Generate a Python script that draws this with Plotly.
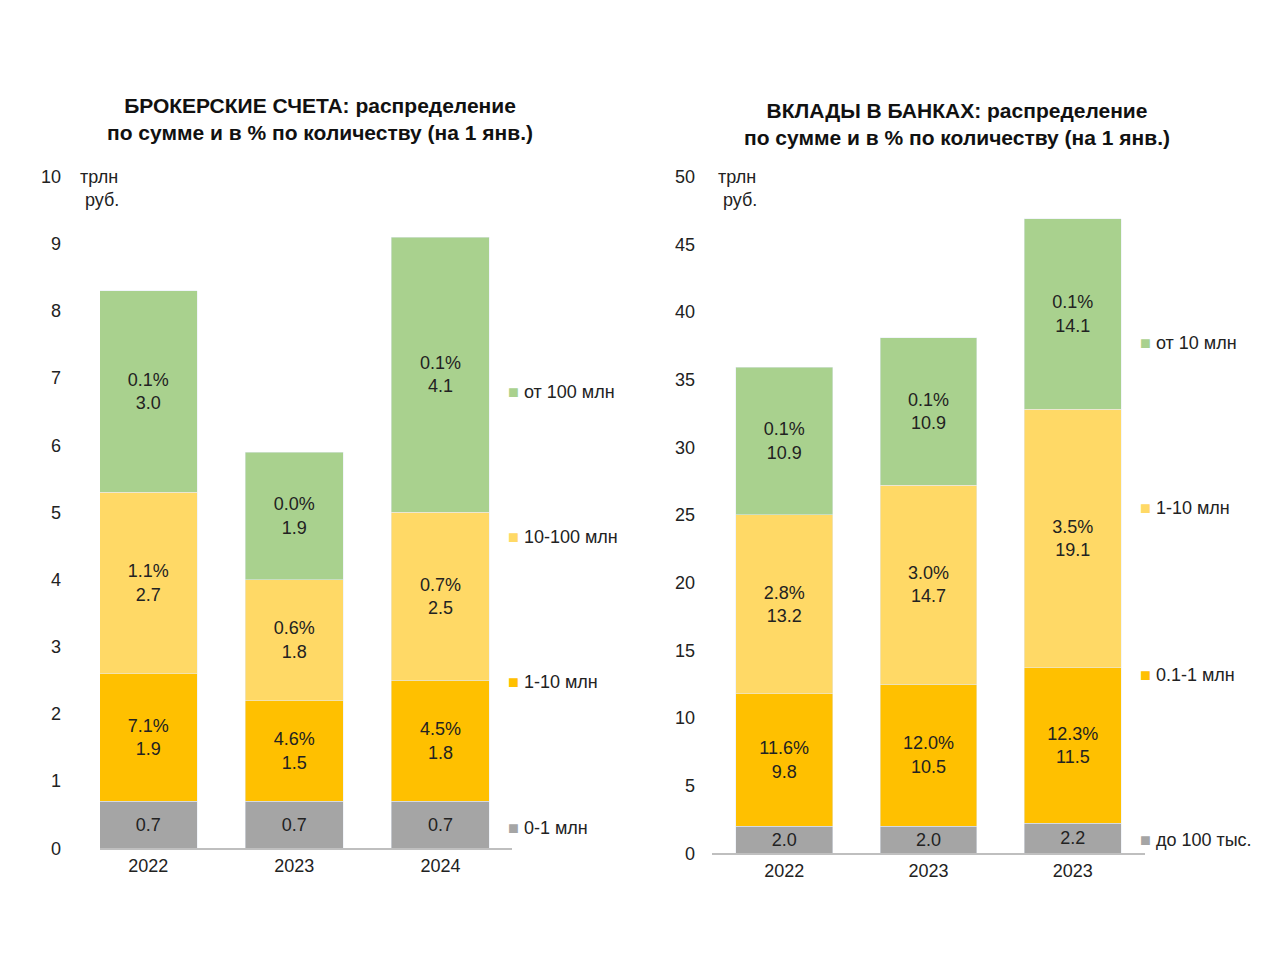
import plotly.graph_objects as go

years_l = ["2022", "2023", "2024"]
l_names = ["0-1 млн", "1-10 млн", "10-100 млн", "от 100 млн"]
l_vals = [[0.7, 0.7, 0.7], [1.9, 1.5, 1.8], [2.7, 1.8, 2.5], [3.0, 1.9, 4.1]]
l_pct = [None, ["7.1%", "4.6%", "4.5%"], ["1.1%", "0.6%", "0.7%"], ["0.1%", "0.0%", "0.1%"]]
l_leg_y = [0.3, 2.48, 4.64, 6.8]

years_r = ["2022", "2023", "2023"]
r_names = ["до 100 тыс.", "0.1-1 млн", "1-10 млн", "от 10 млн"]
r_vals = [[2.0, 2.0, 2.2], [9.8, 10.5, 11.5], [13.2, 14.7, 19.1], [10.9, 10.9, 14.1]]
r_pct = [None, ["11.6%", "12.0%", "12.3%"], ["2.8%", "3.0%", "3.5%"], ["0.1%", "0.1%", "0.1%"]]
r_leg_y = [1.0, 13.2, 25.5, 37.7]

colors = ["#A5A5A5", "#FFC000", "#FFD966", "#A9D18E"]
FONT = "Liberation Sans"
W = 1280.0

fig = go.Figure()
def add(vals, pcts, xa, ya):
    for i in range(4):
        txt = [f"{v:.1f}" if pcts[i] is None else f"{pcts[i][j]}<br>{v:.1f}" for j, v in enumerate(vals[i])]
        fig.add_trace(go.Bar(x=[0, 1, 2], y=vals[i], marker_color=colors[i], width=0.67,
                             text=txt, textposition="inside", insidetextanchor="middle",
                             textfont=dict(size=18, color="#222", family=FONT),
                             xaxis=xa, yaxis=ya, showlegend=False, hoverinfo="skip"))
add(l_vals, l_pct, "x", "y")
add(r_vals, r_pct, "x2", "y2")

ax = dict(showgrid=False, showline=True, linecolor="#BFBFBF", linewidth=1.5, ticks="",
          tickfont=dict(size=18, color="#222", family=FONT), tickvals=[0, 1, 2])
ay = dict(showgrid=False, showline=False, zeroline=False, ticks="",
          tickfont=dict(size=18, color="#222", family=FONT))
fig.update_layout(
    barmode="stack", width=1280, height=960, paper_bgcolor="white", plot_bgcolor="white",
    margin=dict(l=0, r=0, t=0, b=0),
    xaxis=dict(ax, domain=[92/W, 504/W], range=[-0.33, 2.49], ticktext=years_l, anchor="y"),
    yaxis=dict(ay, domain=[0.1167, 0.83125], range=[0, 10], dtick=1, anchor="x", ticklabelstandoff=38),
    xaxis2=dict(ax, domain=[704/W, 1137/W], range=[-0.5, 2.5], ticktext=years_r, anchor="y2"),
    yaxis2=dict(ay, domain=[0.1115, 0.83125], range=[0, 50], dtick=5, anchor="x2", ticklabelstandoff=16),
)
anns = []
for names, ys, xr, yr in [(l_names, l_leg_y, "x", "y"), (r_names, r_leg_y, "x2", "y2")]:
    for i, n in enumerate(names):
        anns.append(dict(x=2.45, y=ys[i], xref=xr, yref=yr, xanchor="left", showarrow=False,
                         text=f"<span style='color:{colors[i]}'>■</span> {n}",
                         font=dict(size=18, color="#222", family=FONT)))
anns.append(dict(x=312/W, y=1-103/960, xref="paper", yref="paper", showarrow=False,
                 xanchor="center", yanchor="middle",
                 text="<b>БРОКЕРСКИЕ СЧЕТА: распределение<br>по сумме и в % по количеству (на 1 янв.)</b>",
                 font=dict(size=21, color="#111", family=FONT)))
anns.append(dict(x=949/W, y=1-108/960, xref="paper", yref="paper", showarrow=False,
                 xanchor="center", yanchor="middle",
                 text="<b>ВКЛАДЫ В БАНКАХ: распределение<br>по сумме и в % по количеству (на 1 янв.)</b>",
                 font=dict(size=21, color="#111", family=FONT)))
for x in [70, 708]:
    anns.append(dict(x=x/W, y=1-150/960, xref="paper", yref="paper", showarrow=False,
                     xanchor="left", yanchor="top", align="left", text="трлн<br> руб.",
                     font=dict(size=18, color="#222", family=FONT)))
fig.update_layout(annotations=anns)
fig.write_html("out.html")
